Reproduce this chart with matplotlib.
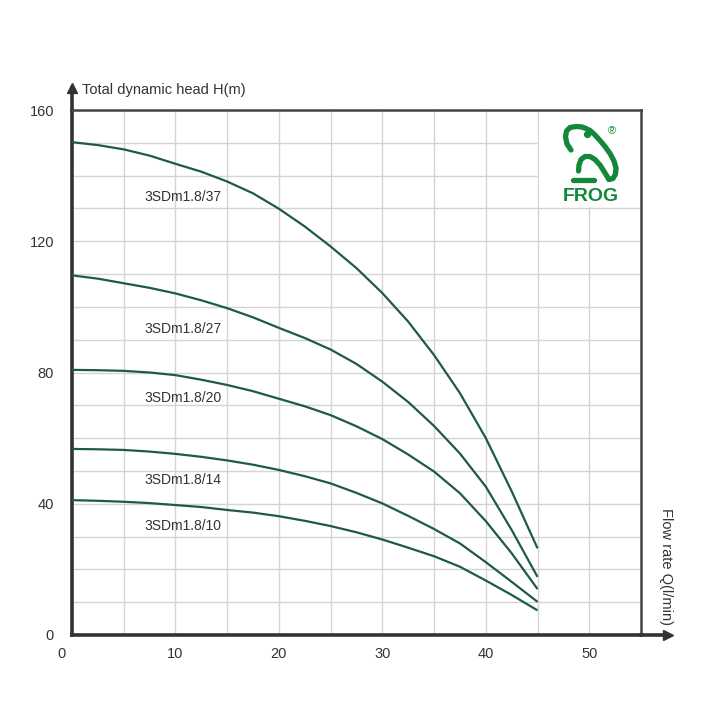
import matplotlib
matplotlib.use("Agg")
import matplotlib.pyplot as plt
import matplotlib.transforms as mtransforms
from matplotlib.patches import Rectangle

plt.rcParams['font.family'] = ['Liberation Sans', 'DejaVu Sans']

# ---- data ----
flow = [0, 2.5, 5, 7.5, 10, 12.5, 15, 17.5, 20, 22.5, 25, 27.5, 30, 32.5, 35, 37.5, 40, 42.5, 45]
head_37 = [150.2, 149.3, 148.0, 146.1, 143.6, 141.2, 138.2, 134.6, 129.9, 124.5, 118.4, 111.8,
           104.2, 95.5, 85.3, 73.7, 60.0, 43.8, 26.4]
head_27 = [109.6, 108.6, 107.2, 105.8, 104.1, 102.0, 99.6, 96.8, 93.6, 90.5, 87.0, 82.6,
           77.2, 71.0, 63.7, 55.3, 45.2, 32.0, 17.7]
head_20 = [80.8, 80.7, 80.5, 80.0, 79.2, 77.8, 76.2, 74.3, 72.0, 69.7, 67.0, 63.6,
           59.7, 55.0, 49.8, 43.2, 34.7, 24.9, 14.0]
head_14 = [56.7, 56.6, 56.4, 55.9, 55.2, 54.3, 53.2, 51.9, 50.3, 48.4, 46.2, 43.3,
           40.1, 36.3, 32.3, 27.9, 22.2, 16.2, 10.1]
head_10 = [41.1, 40.9, 40.6, 40.2, 39.6, 39.0, 38.1, 37.3, 36.2, 34.8, 33.2, 31.3,
           29.1, 26.6, 24.0, 20.8, 16.6, 12.2, 7.5]
series_names = ["3SDm1.8/37", "3SDm1.8/27", "3SDm1.8/20", "3SDm1.8/14", "3SDm1.8/10"]
label_pos = [(10.7, 133.5), (10.7, 93.2), (10.7, 72.3), (10.7, 47.2), (10.7, 33.2)]
x_ticks = [0, 10, 20, 30, 40, 50]
y_ticks = [0, 40, 80, 120, 160]

W, H = 720, 720
fig = plt.figure(figsize=(7.2, 7.2), dpi=100)
ax = fig.add_axes([72 / W, 1 - 635 / H, (641 - 72) / W, (635 - 110) / H])

curve_color = "#1f5c3f"
for hs, name, (lx, ly) in zip([head_37, head_27, head_20, head_14, head_10], series_names, label_pos):
    ax.plot(flow, hs, color=curve_color, lw=1.6, zorder=3, solid_capstyle='butt', solid_joinstyle='round')
    ax.text(lx, ly, name, ha='center', va='center', fontsize=10, color='#333333', zorder=4)

ax.set_xlim(0, 55)
ax.set_ylim(0, 160)
ax.set_axisbelow(True)
ax.set_xticks(x_ticks)
ax.set_xticks(range(5, 56, 10), minor=True)
ax.set_yticks(y_ticks)
ax.set_yticks(range(10, 161, 10), minor=True)
ax.grid(True, which='both', color='#d4d4d4', lw=1.0)
ax.tick_params(which='both', length=0)
ax.tick_params(axis='x', pad=9, labelsize=10.5, labelcolor='#333333')
ax.tick_params(axis='y', pad=13, labelsize=10.5, labelcolor='#333333')
ax.set_xticklabels([str(t) for t in x_ticks])
ax.set_yticklabels([str(t) for t in y_ticks])
# shift the "0" x label left like the reference
lab0 = ax.get_xticklabels()[0]
lab0.set_transform(lab0.get_transform() + mtransforms.ScaledTranslation(-10 / 100, 0, fig.dpi_scale_trans))

for s in ['left', 'bottom']:
    ax.spines[s].set_linewidth(2.6)
    ax.spines[s].set_color('#333333')
for s in ['top', 'right']:
    ax.spines[s].set_linewidth(1.8)
    ax.spines[s].set_color('#444444')

# white box behind logo (covers gridlines)
ax.add_patch(Rectangle((45.15, 130.3), 9.85, 29.7, facecolor='white', edgecolor='none', zorder=1))

# axis arrows
ax.plot([0, 0], [1, 1 + 22 / 525], transform=ax.transAxes, color='#333333', lw=2.6, clip_on=False)
ax.plot([0], [1 + 22 / 525], transform=ax.transAxes, marker='^', ms=7, color='#333333', clip_on=False)
ax.plot([1, 1 + 27 / 569], [0, 0], transform=ax.transAxes, color='#333333', lw=2.6, clip_on=False)
ax.plot([1 + 27 / 569], [0], transform=ax.transAxes, marker='>', ms=7, color='#333333', clip_on=False)

fig.text(82 / W, 1 - 90 / H, "Total dynamic head H(m)", ha='left', va='center', fontsize=10.5, color='#333333')
fig.text(666 / W, 1 - 567 / H, "Flow rate Q(l/min)", ha='center', va='center', rotation=270,
         fontsize=10.5, color='#333333')

# ---- FROG logo ----
green = "#14883a"
lax = fig.add_axes([540 / W, 1 - 210 / H, 100 / W, 100 / H])
lax.set_xlim(540, 640)
lax.set_ylim(210, 110)
lax.axis('off')
head_x = [571, 567, 565.5, 566.5, 570, 576, 582, 586, 590, 595, 600, 605, 610, 614, 616, 615.5, 613, 609]
head_y = [150, 144, 137, 131, 127.5, 126.5, 127, 128.5, 130.5, 135, 140.5, 146.5, 153.5, 161, 168, 174, 178.5, 179.5]
lax.plot(head_x, head_y, color=green, lw=3.8, solid_capstyle='round', solid_joinstyle='round')
leg_x = [609, 605, 600, 595, 590, 585, 581, 579, 578.5]
leg_y = [179.5, 173, 165, 159.5, 156.5, 156.5, 159.5, 165, 171]
lax.plot(leg_x, leg_y, color=green, lw=3.8, solid_capstyle='round', solid_joinstyle='round')
lax.plot([573, 594], [180, 180], color=green, lw=3.8, solid_capstyle='round')
lax.plot([586.5], [134], marker='o', ms=4.2, color=green)
lax.text(591, 196, "FROG", ha='center', va='center', fontsize=14, fontweight='bold', color=green)
lax.text(612, 131, "®", ha='center', va='center', fontsize=8, color=green)

fig.savefig("out.png", dpi=100)
